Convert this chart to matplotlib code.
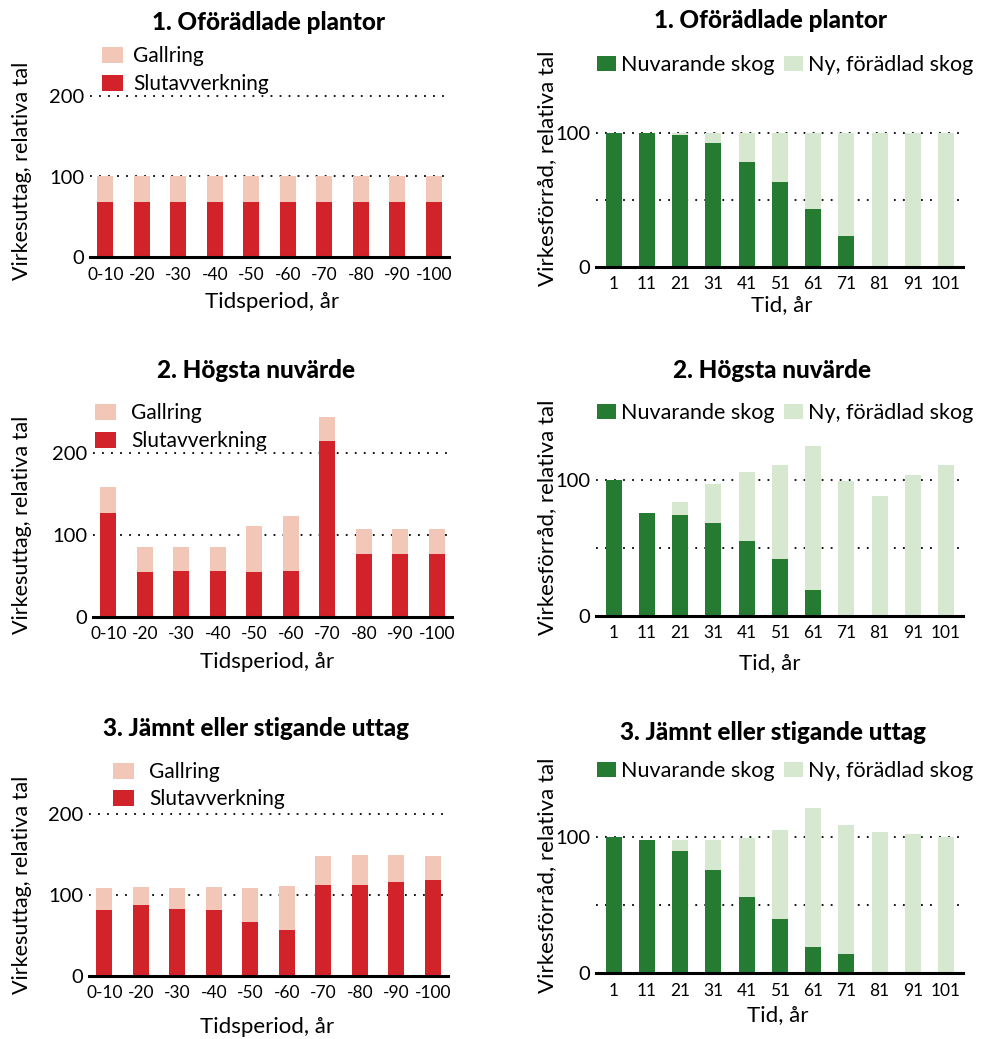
import matplotlib.pyplot as plt

plt.rcParams['font.family'] = ['Lato', 'DejaVu Sans']

W, H = 982, 1039

# left column: Virkesuttag (relativa tal)
periods = ["0-10", "-20", "-30", "-40", "-50", "-60", "-70", "-80", "-90", "-100"]
slut_1 = [68, 68, 68, 68, 68, 68, 68, 68, 68, 68]
gall_1 = [32, 32, 32, 32, 32, 32, 32, 32, 32, 32]
slut_2 = [127, 55, 56, 56, 55, 56, 214, 77, 76, 76]
gall_2 = [31, 30, 29, 29, 56, 67, 29, 30, 31, 31]
slut_3 = [81, 87, 83, 81, 67, 57, 113, 113, 116, 118]
gall_3 = [28, 23, 26, 29, 42, 54, 35, 36, 33, 30]

# right column: Virkesförråd (relativa tal)
years = ["1", "11", "21", "31", "41", "51", "61", "71", "81", "91", "101"]
nuv_1 = [100, 100, 98, 92, 78, 63, 43, 23, 0, 0, 0]
ny_1 = [0, 0, 2, 8, 22, 37, 57, 77, 100, 100, 100]
nuv_2 = [100, 76, 74, 68, 55, 42, 19, 0, 0, 0, 0]
ny_2 = [0, 0, 10, 29, 51, 69, 106, 99, 88, 104, 111]
nuv_3 = [100, 98, 90, 76, 56, 40, 19, 14, 0, 0, 0]
ny_3 = [0, 0, 8, 22, 43, 65, 102, 95, 104, 102, 100]

titles = ["1. Oförädlade plantor", "2. Högsta nuvärde", "3. Jämnt eller stigande uttag"]

RED = "#d2232a"
PINK = "#f2c7b7"
DGREEN = "#267b32"
LGREEN = "#d6e8d0"

fig = plt.figure(figsize=(W / 100, H / 100), dpi=100)


def fx(x):
    return x / W


def fy(y):
    return 1 - y / H


def make_ax(x0, x1, ybot, ppu, ytop):
    return fig.add_axes([fx(x0), fy(ybot), (x1 - x0) / W, ytop * ppu / H])


def style(ax, yticks, grid):
    for s in ["left", "top", "right"]:
        ax.spines[s].set_visible(False)
    ax.spines["bottom"].set_linewidth(2.2)
    ax.tick_params(length=0, labelsize=14.5, pad=4)
    ax.tick_params(axis="x", labelsize=12.5, pad=7)
    ax.set_yticks(yticks)
    for g in grid:
        ax.axhline(g, color="black", lw=1.3, ls=(0, (1, 4)), zorder=0)


def fig_label(x, y, s, **kw):
    fig.text(fx(x), fy(y), s, ha="center", va="center", **kw)


# ---- left column ----
left_specs = [
    (slut_1, gall_1, 90, 449, 257, 0.805, (107, 56, 84), (268, 22), (272, 302), 171),
    (slut_2, gall_2, 93, 452, 616.7, 0.82, (100, 413, 441), (256, 370), (267, 662), 525),
    (slut_3, gall_3, 89, 448, 975.7, 0.807, (118, 772, 799), (256, 729), (267, 1027), 885),
]
for i, (slut, gall, x0, x1, yb, ppu, leg, tpos, xlpos, ylc) in enumerate(left_specs):
    ax = make_ax(x0, x1, yb, ppu, 250)
    x = range(len(periods))
    b1 = ax.bar(x, slut, width=0.44, color=RED, zorder=2)
    b2 = ax.bar(x, gall, bottom=slut, width=0.44, color=PINK, zorder=2)
    ax.set_xlim(-0.42, len(periods) - 0.58)
    ax.set_ylim(0, 250)
    ax.set_xticks(list(x))
    ax.set_xticklabels(periods)
    style(ax, [0, 100, 200], [100, 200])
    lx, ly1, ly2 = leg
    for handle, lab, ly in [(b2, "Gallring", ly1), (b1, "Slutavverkning", ly2)]:
        fig.legend([handle], [lab], loc="center left",
                   bbox_to_anchor=(fx(lx - 5), fy(ly)), frameon=False,
                   fontsize=15, handlelength=1.0, handleheight=0.8,
                   handletextpad=0.75 if i else 0.5, borderpad=0, borderaxespad=0)
    fig_label(*tpos, titles[i], fontsize=17.5, fontweight="black")
    fig_label(*xlpos, "Tidsperiod, år", fontsize=16)
    fig_label(22, ylc, "Virkesuttag, relativa tal", fontsize=15.5, rotation=90)

# ---- right column ----
right_specs = [
    (nuv_1, ny_1, 266.7, 1.34, 65, (770, 20), (782, 305), 168),
    (nuv_2, ny_2, 615.7, 1.357, 413, (772, 370), (770, 663), 517),
    (nuv_3, ny_3, 973, 1.36, 771, (773, 732), (778, 1015), 875),
]
for i, (nuv, ny, yb, ppu, legy, tpos, xlpos, ylc) in enumerate(right_specs):
    ax = make_ax(596, 963, yb, ppu, 135)
    x = range(len(years))
    b1 = ax.bar(x, nuv, width=0.48, color=DGREEN, zorder=2)
    b2 = ax.bar(x, ny, bottom=nuv, width=0.48, color=LGREEN, zorder=2)
    ax.set_xlim(-0.53, len(years) - 0.49)
    ax.set_ylim(0, 135)
    ax.set_xticks(list(x))
    ax.set_xticklabels(years)
    style(ax, [0, 100], [50, 100])
    fig.legend([b1, b2], ["Nuvarande skog", "Ny, förädlad skog"], loc="center left",
               bbox_to_anchor=(fx(597), fy(legy)), ncol=2, frameon=False,
               fontsize=15.5, handlelength=0.9, handleheight=0.75,
               handletextpad=0.2, columnspacing=0.45, borderpad=0, borderaxespad=0)
    fig_label(*tpos, titles[i], fontsize=17.5, fontweight="black")
    fig_label(*xlpos, "Tid, år", fontsize=16)
    fig_label(547, ylc, "Virkesförråd, relativa tal", fontsize=16, rotation=90)

fig.savefig("out.png", dpi=100)
